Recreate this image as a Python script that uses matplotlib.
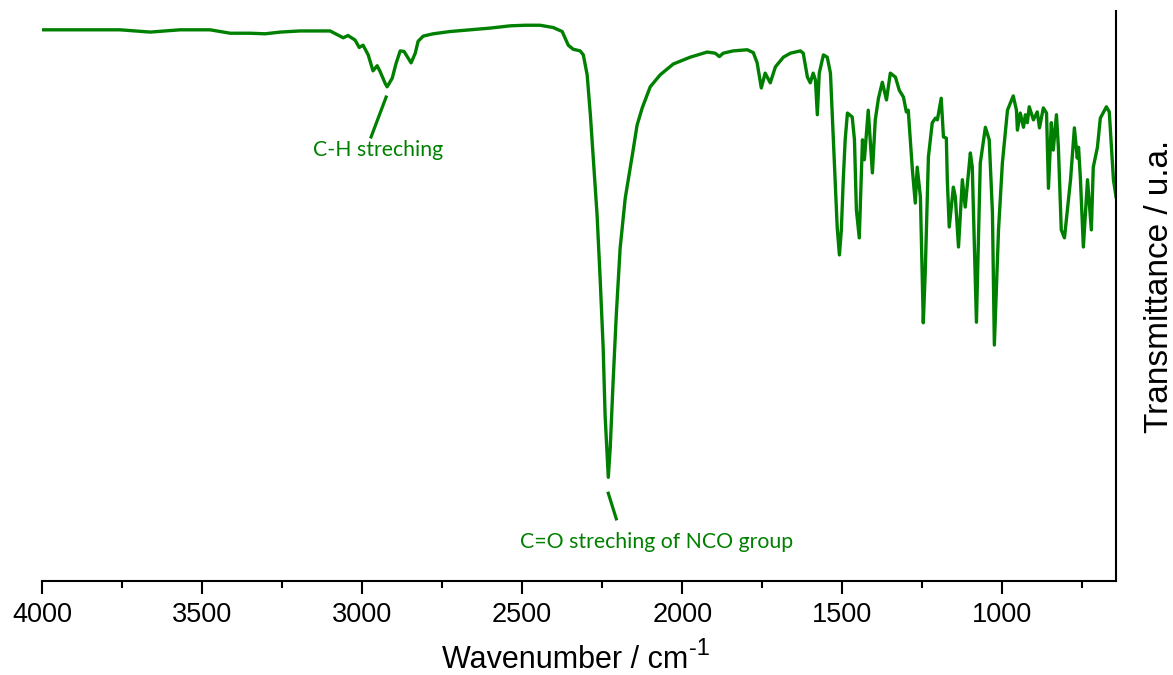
import matplotlib
matplotlib.use("Agg")
import matplotlib.pyplot as plt

# Wavenumber (cm^-1) and transmittance (a.u.)
wavenumber = [4000, 3881, 3756, 3662, 3569, 3475, 3412, 3350, 3303, 3256, 3194, 3100,
              3059, 3044, 3022, 3009, 2997, 2981, 2966, 2953, 2944, 2928, 2922, 2906,
              2894, 2881, 2869, 2859, 2847, 2834, 2825, 2809, 2778, 2725, 2662, 2600,
              2537, 2491, 2444, 2403, 2375, 2356, 2341, 2319, 2309, 2297, 2287, 2278,
              2266, 2256, 2247, 2241, 2234, 2231, 2225, 2216, 2206, 2194, 2178, 2156,
              2141, 2125, 2100, 2069, 2028, 1975, 1922, 1897, 1884, 1872, 1841, 1797,
              1778, 1766, 1753, 1741, 1725, 1709, 1684, 1662, 1631,
              1622, 1609, 1600, 1591, 1584, 1578, 1572, 1559, 1547, 1537, 1528, 1516,
              1509, 1503, 1497, 1491, 1484, 1469, 1462, 1456, 1447, 1437, 1431, 1419,
              1406, 1397, 1387, 1375, 1362, 1350, 1334, 1322, 1309, 1300, 1294, 1281,
              1272, 1266, 1256, 1247, 1241, 1231, 1219, 1209,
              1203, 1191, 1184, 1175, 1172, 1166, 1153, 1147, 1137, 1125, 1116, 1100,
              1094, 1081, 1069, 1053, 1041, 1031, 1025, 1012, 1000, 984, 966, 956,
              953, 944, 934, 928, 922, 916, 903, 891, 884, 872, 862, 856, 847, 841,
              831, 825, 816, 806, 787, 775, 766, 762, 756, 747, 734, 722, 716, 703,
              694, 675, 666, 653, 645]
transmittance = [96.7, 96.7, 96.7, 96.3, 96.7, 96.7, 96.1, 96.1, 96.0, 96.3, 96.5, 96.5,
                 95.3, 95.7, 94.9, 93.6, 94.0, 92.3, 89.5, 90.4, 89.4, 87.3, 86.7, 88.2,
                 90.8, 93.0, 92.9, 92.0, 90.9, 92.6, 94.7, 95.6, 96.0, 96.4, 96.7, 97.0,
                 97.4, 97.5, 97.5, 97.1, 96.4, 94.0, 93.3, 93.0, 92.3, 88.8, 81.8, 74.2,
                 64.2, 52.5, 40.9, 29.1, 21.6, 18.2, 23.3, 34.9, 46.7, 58.4, 67.2, 74.7,
                 80.0, 83.0, 86.7, 88.8, 90.7, 91.9, 92.8, 92.6, 92.0, 92.6, 93.0, 93.2,
                 92.7, 90.9, 86.5, 89.1, 87.4, 90.2, 91.9, 92.6, 93.0,
                 92.6, 88.4, 87.4, 89.1, 87.9, 81.8, 89.1, 92.3, 91.9, 89.1, 77.4, 62.1,
                 57.2, 61.6, 70.4, 77.4, 82.1, 81.4, 77.4, 65.1, 60.2, 77.4, 73.9, 82.6,
                 71.6, 80.9, 84.7, 87.5, 84.4, 89.1, 88.4, 86.1, 84.9, 82.3, 82.6, 72.1,
                 66.3, 72.6, 67.4, 45.3, 54.0, 74.4, 80.4, 81.2,
                 80.9, 84.7, 77.9, 77.7, 70.4, 62.1, 69.1, 67.4, 58.6, 70.4, 65.6, 75.1,
                 72.6, 45.4, 73.3, 79.6, 77.4, 64.6, 41.4, 61.6, 73.3, 82.6, 85.1, 82.6,
                 79.1, 82.1, 79.6, 81.8, 80.4, 83.2, 80.9, 82.3, 79.5, 83.0, 82.1, 68.9,
                 80.4, 75.6, 81.8, 76.1, 61.6, 60.2, 70.4, 79.5, 74.2, 76.1, 70.4, 58.6,
                 70.4, 61.6, 72.6, 76.1, 81.2, 83.2, 82.3, 70.4, 67.4]

annotations = [
    {"text": "C-H streching", "line": [(2925, 84.9), (2972, 77.9)], "pos": (2950, 75.6)},
    {"text": "C=O streching of NCO group", "line": [(2231, 15.4), (2206, 10.9)], "pos": (2081, 6.8)},
]

green = "#008000"

fig = plt.figure(figsize=(11.73, 6.75), dpi=100)
ax = fig.add_axes([42 / 1173, 1 - 581 / 675, (1116 - 42) / 1173, 570 / 675])

ax.plot(wavenumber, transmittance, color=green, lw=2.4, solid_joinstyle="round")

for a in annotations:
    (x0, y0), (x1, y1) = a["line"]
    ax.plot([x0, x1], [y0, y1], color=green, lw=2.3)
    ax.text(a["pos"][0], a["pos"][1], a["text"], color=green, fontsize=15.3,
            family="Lato", ha="center", va="center")

ax.set_xlim(4000, 645)
ax.set_ylim(0, 100)

ax.spines["top"].set_visible(False)
ax.spines["left"].set_visible(False)
ax.spines["right"].set_linewidth(1.5)
ax.spines["bottom"].set_linewidth(1.5)

ax.set_xticks([4000, 3500, 3000, 2500, 2000, 1500, 1000])
ax.set_xticks([3750, 3250, 2750, 2250, 1750, 1250, 750], minor=True)
ax.tick_params(axis="x", which="major", length=9, width=1.5, direction="out",
               labelsize=19.5, pad=6)
ax.tick_params(axis="x", which="minor", length=5, width=1.5, direction="out")
for lbl in ax.get_xticklabels():
    lbl.set_family("Liberation Sans")
ax.set_yticks([])

xlab = ax.set_xlabel("Wavenumber / cm", fontsize=22, family="Liberation Sans",
                     labelpad=12)
ax.xaxis.label.set_x(0.487)
ax.annotate("-1", xy=(1, 1), xycoords=xlab, xytext=(0.5, -3),
            textcoords="offset points", ha="left", va="center",
            fontsize=17, family="Liberation Sans")

ax.yaxis.set_label_position("right")
ax.set_ylabel("Transmittance / u.a.", fontsize=24, family="Liberation Sans")
ax.yaxis.set_label_coords(1.026, 0.5175)

fig.savefig("out.png", dpi=100)
